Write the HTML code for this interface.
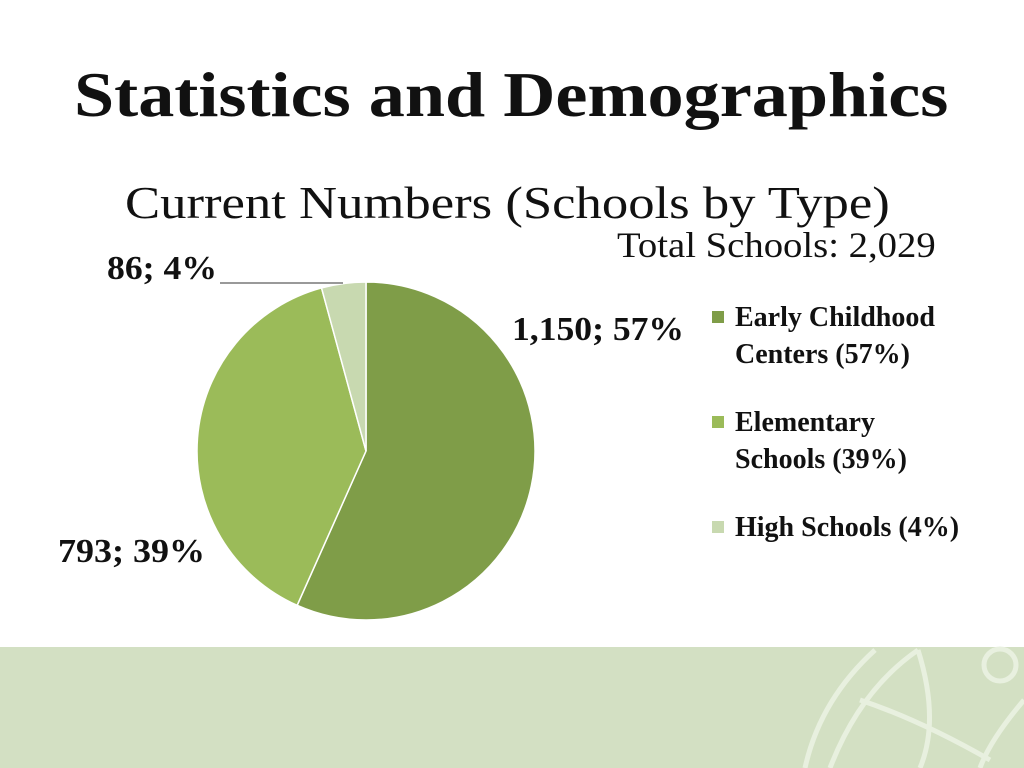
<!DOCTYPE html>
<html><head><meta charset="utf-8"><style>
body{margin:0;width:1024px;height:768px;background:#fff;overflow:hidden;position:relative;font-family:"Liberation Serif",serif;}
.t{position:absolute;white-space:nowrap;color:#111;transform-origin:0 0;}
</style></head><body>
<div class="t" style="left:74px;top:58px;font-size:64px;font-weight:bold;transform:scaleX(1.128);">Statistics and Demographics</div>
<div class="t" style="left:125px;top:176px;font-size:46px;transform:scaleX(1.145);">Current Numbers (Schools by Type)</div>
<div class="t" style="left:617px;top:224px;font-size:36px;transform:scaleX(1.075);">Total Schools: 2,029</div>
<svg id="chart" width="1024" height="768" style="position:absolute;left:0;top:0">
<rect x="0" y="647" width="1024" height="121" fill="#d3e0c3"/>
<g fill="none" stroke="#e8f0df" stroke-width="5">
<path d="M875 650 Q820 700 805 768"/>
<path d="M918 650 Q860 690 830 768"/>
<path d="M918 650 Q940 720 920 768"/>
<path d="M860 700 Q920 720 990 760"/>
<circle cx="1000" cy="665" r="16"/>
<path d="M1024 700 Q990 740 980 768"/>
</g>
</svg>
<script>
const categories=["Early Childhood Centers (57%)","Elementary Schools (39%)","High Schools (4%)"];
const values=[1150,793,86];
const labels=["1,150; 57%","793; 39%","86; 4%"];
const colors=["#7f9d48","#9bbb59","#c8d9b0"];
const svg=document.getElementById('chart');
const NS="http://www.w3.org/2000/svg";
const cx=366,cy=451,r=169;
const total=values.reduce((a,b)=>a+b,0);
let a0=0;
values.forEach((v,i)=>{
  const a1=a0+v/total*2*Math.PI;
  const x0=cx+r*Math.sin(a0),y0=cy-r*Math.cos(a0),x1=cx+r*Math.sin(a1),y1=cy-r*Math.cos(a1);
  const p=document.createElementNS(NS,'path');
  p.setAttribute('d',`M${cx} ${cy}L${x0} ${y0}A${r} ${r} 0 ${a1-a0>Math.PI?1:0} 1 ${x1} ${y1}Z`);
  p.setAttribute('fill',colors[i]);p.setAttribute('stroke','#fff');p.setAttribute('stroke-width','1.5');
  
  
  svg.appendChild(p);
  a0=a1;
});
const lpos=[[512,340,'start',172],[205,562,'end',147],[217,279,'end',110]];
labels.forEach((t,i)=>{
  const e=document.createElementNS(NS,'text');
  e.setAttribute('x',lpos[i][0]);e.setAttribute('y',lpos[i][1]);e.setAttribute('text-anchor',lpos[i][2]);
  e.setAttribute('font-size','34');e.setAttribute('font-weight','bold');e.setAttribute('font-family','"Liberation Serif",serif');e.setAttribute('fill','#111');
  e.setAttribute('textLength',lpos[i][3]);e.setAttribute('lengthAdjust','spacingAndGlyphs');
  e.textContent=t;
  
  
  svg.appendChild(e);
});
const ll=document.createElementNS(NS,'line');
ll.setAttribute('x1',220);ll.setAttribute('y1',283);ll.setAttribute('x2',343);ll.setAttribute('y2',283);ll.setAttribute('stroke','#333');


svg.appendChild(ll);
const lg=[[["Early Childhood","Centers (57%)"],316],[["Elementary","Schools (39%)"],421],[["High Schools (4%)"],526]];
lg.forEach((g,i)=>{
  const s=document.createElementNS(NS,'rect');
  s.setAttribute('x',712);s.setAttribute('y',g[1]-5);s.setAttribute('width',12);s.setAttribute('height',12);s.setAttribute('fill',colors[i]);
  
  
  svg.appendChild(s);
  g[0].forEach((ln,j)=>{
    const e=document.createElementNS(NS,'text');
    e.setAttribute('x',735);e.setAttribute('y',g[1]+10+j*37);
    e.setAttribute('font-size','28');e.setAttribute('font-weight','bold');e.setAttribute('font-family','"Liberation Serif",serif');e.setAttribute('fill','#111');
    e.textContent=ln;
    
    
    svg.appendChild(e);
  });
});
</script>
</body></html>
